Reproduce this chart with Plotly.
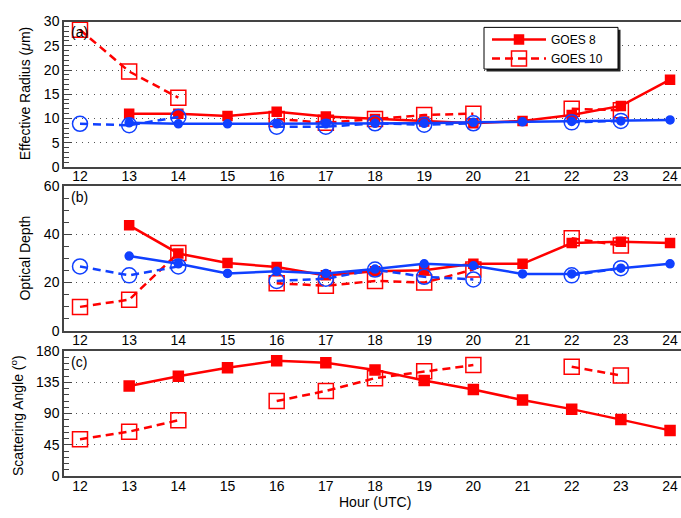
import plotly.graph_objects as go

hours = [12, 13, 14, 15, 16, 17, 18, 19, 20, 21, 22, 23, 24]
hour_labels = [str(h) for h in hours]

# Panel (a): effective radius (um)
reff_g8_red = [None, 11.0, 11.0, 10.5, 11.4, 10.4, 9.9, 9.4, 9.0, 9.5, 10.7, 12.6, 18.0]
reff_g10_red = [28.3, 19.7, 14.3, None, 9.9, 9.1, 9.9, 10.7, 11.0, None, 12.0, 11.7, None]
reff_g8_blue = [None, 9.1, 8.9, 8.9, 8.9, 8.9, 9.0, 9.0, 9.2, 9.3, 9.4, 9.5, 9.7]
reff_g10_blue = [8.9, 8.6, 10.3, None, 8.3, 8.3, 9.0, 8.7, 9.0, None, 9.2, 9.5, None]

# Panel (b): optical depth
tau_g8_red = [None, 43.8, 32.1, 28.1, 26.5, 23.0, 24.7, 25.1, 27.8, 27.8, 36.4, 37.0, 36.4]
tau_g10_red = [9.9, 12.9, 32.3, None, 19.7, 18.7, 20.7, 20.0, 25.4, None, 38.4, 35.4, None]
tau_g8_blue = [None, 31.0, 27.8, 23.8, 24.7, 23.8, 25.6, 27.8, 27.0, 23.6, 23.6, 26.0, 27.8]
tau_g10_blue = [26.7, 23.0, 26.7, None, 20.7, 21.6, 25.4, 22.4, 21.3, None, 23.0, 26.0, None]

# Panel (c): scattering angle (deg)
angle_g8 = [None, 129.7, 143.8, 156.0, 165.9, 163.1, 152.8, 137.7, 124.6, 109.5, 96.4, 81.3, 65.8]
angle_g10 = [53.1, 64.0, 80.3, None, 108.0, 122.6, 141.0, 150.8, 159.8, None, 157.5, 144.8, None]

RED = "#ff0000"
BLUE = "#1040ff"
FONT = "Liberation Sans, Arial, sans-serif"
W, H = 681, 518

fig = go.Figure()


def add(y, idx, color, dash, symbol, size, name, showlegend):
    ax = "" if idx == 1 else str(idx)
    fig.add_trace(go.Scatter(
        x=hours, y=y, xaxis="x" + ax, yaxis="y" + ax,
        mode="lines+markers", name=name, showlegend=showlegend,
        connectgaps=False,
        line=dict(color=color, width=2.5, dash=dash),
        marker=dict(symbol=symbol, size=size, color=color,
                    line=dict(color=color, width=1.5)),
    ))


DASH = "8px,5px"
# panel a
add(reff_g8_red, 1, RED, "solid", "square", 9, "GOES 8", True)
add(reff_g10_red, 1, RED, DASH, "square-open", 15, "GOES 10", True)
add(reff_g8_blue, 1, BLUE, "solid", "circle", 8, "GOES 8 b", False)
add(reff_g10_blue, 1, BLUE, DASH, "circle-open", 15, "GOES 10 b", False)
# panel b
add(tau_g8_red, 2, RED, "solid", "square", 9, "GOES 8", False)
add(tau_g10_red, 2, RED, DASH, "square-open", 15, "GOES 10", False)
add(tau_g8_blue, 2, BLUE, "solid", "circle", 8, "GOES 8 b", False)
add(tau_g10_blue, 2, BLUE, DASH, "circle-open", 15, "GOES 10 b", False)
# panel c
add(angle_g8, 3, RED, "solid", "square", 10, "GOES 8", False)
add(angle_g10, 3, RED, DASH, "square-open", 15, "GOES 10", False)

ML = 64
XR = [12 - 16 / 49.17, 12 + (W - ML - 16) / 49.17]


def pf(px):
    return 1 - px / H


def xf(px):
    return (px - ML) / (W - ML)


panels = [
    dict(domain=[pf(164), pf(14)], range=[0, 30], dtick=5, minor=1),
    dict(domain=[pf(333), pf(184)], range=[0, 60], dtick=20, minor=5),
    dict(domain=[pf(483), pf(354)], range=[0, 180], dtick=45, minor=9),
]

AXC = "#444444"
for i, p in enumerate(panels, start=1):
    ax = "" if i == 1 else str(i)
    fig.update_layout(**{
        "xaxis" + ax: dict(
            domain=[0, 1], anchor="y" + ax, range=XR,
            tickmode="array", tickvals=hours, ticktext=hour_labels,
            ticks="", showgrid=False, zeroline=False,
            showline=True, linecolor=AXC, linewidth=1.5, mirror=True,
            ticklabelstandoff=-4,
            tickfont=dict(family=FONT, size=14, color="black"),
        ),
        "yaxis" + ax: dict(
            domain=p["domain"], anchor="x" + ax, range=p["range"],
            tickmode="linear", tick0=0, dtick=p["dtick"],
            ticks="inside", ticklen=8, tickwidth=1, tickcolor=AXC,
            minor=dict(tickmode="linear", tick0=0, dtick=p["minor"],
                       ticks="inside", ticklen=5, tickwidth=1,
                       tickcolor=AXC, showgrid=False),
            showgrid=True, gridcolor="#555555", gridwidth=1.2,
            griddash="1px,5px", zeroline=False,
            showline=True, linecolor=AXC, linewidth=1.5, mirror=False,
            tickfont=dict(family=FONT, size=14, color="black"),
        ),
    })

annotations = []
for i, lab in enumerate(["(a)", "(b)", "(c)"], start=1):
    ax = "" if i == 1 else str(i)
    annotations.append(dict(
        text=lab, xref="x" + ax + " domain", yref="y" + ax + " domain",
        x=0.008, y=0.995, xanchor="left", yanchor="top", showarrow=False,
        font=dict(family=FONT, size=14, color="black")))

ytitles = [("Effective Radius (<i>μ</i>m)", 25, 89),
           ("Optical Depth", 25, 258.5),
           ("Scattering Angle (<sup>o</sup>)", 17, 421)]
for txt, xp, yp in ytitles:
    annotations.append(dict(
        text=txt, xref="paper", yref="paper",
        x=xf(xp), y=pf(yp), xanchor="center", yanchor="middle",
        textangle=-90, showarrow=False,
        font=dict(family=FONT, size=14, color="black")))

annotations.append(dict(
    text="Hour (UTC)", xref="paper", yref="paper",
    x=xf(375), y=pf(509.5), xanchor="center", yanchor="middle",
    showarrow=False, font=dict(family=FONT, size=14, color="black")))

# legend frame with drop shadow (legend entries drawn on top by plotly)
shapes = [
    dict(type="rect", xref="paper", yref="paper",
         x0=xf(486.5), x1=xf(620.5), y0=pf(65.5), y1=pf(22.5),
         fillcolor="#222222", line=dict(width=0), layer="above"),
    dict(type="rect", xref="paper", yref="paper",
         x0=xf(484), x1=xf(618), y0=pf(63), y1=pf(20),
         fillcolor="white", line=dict(color="black", width=1), layer="above"),
]

fig.update_layout(
    width=W, height=H,
    margin=dict(l=ML, r=0, t=0, b=0),
    paper_bgcolor="white", plot_bgcolor="white",
    annotations=annotations,
    shapes=shapes,
    showlegend=True,
    legend=dict(
        x=xf(487), y=pf(17.5), xanchor="left", yanchor="top",
        xref="paper", yref="paper",
        bgcolor="rgba(0,0,0,0)", borderwidth=0,
        font=dict(family=FONT, size=12, color="black"),
        itemwidth=54, tracegroupgap=0,
    ),
)

fig.write_html("out.html")
